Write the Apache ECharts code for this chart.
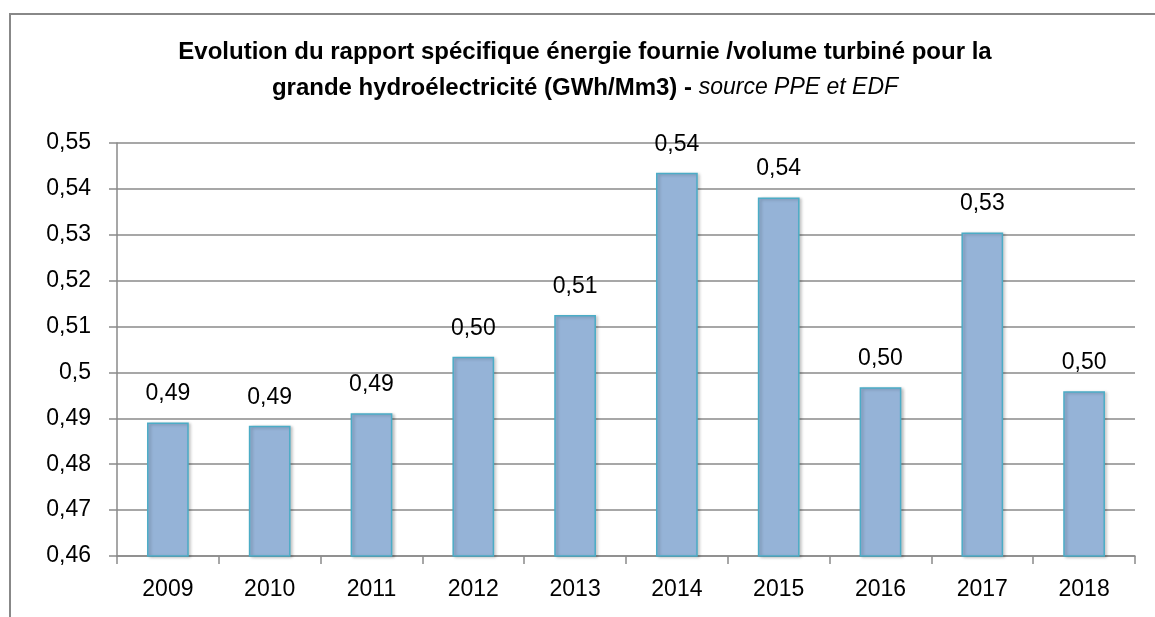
<!DOCTYPE html>
<html>
<head>
<meta charset="utf-8">
<script src="https://cdn.jsdelivr.net/npm/echarts@6/dist/echarts.min.js"></script>
<style>
  html, body { margin: 0; padding: 0; background: #ffffff; }
  #chart { width: 1155px; height: 617px; }
</style>
</head>
<body>
<div id="chart"></div>
<script>
// Rapport énergie fournie / volume turbiné (GWh/Mm3), grande hydroélectricité
const years = ['2009', '2010', '2011', '2012', '2013', '2014', '2015', '2016', '2017', '2018'];
const ratios = [0.4891, 0.4884, 0.4911, 0.5034, 0.5125, 0.5435, 0.5381, 0.4968, 0.5305, 0.4959];
const titleLine1 = 'Evolution du rapport spécifique énergie fournie /volume turbiné pour la';
const titleLine2 = 'grande hydroélectricité (GWh/Mm3) - ';
const titleSource = 'source PPE et EDF';

const FONT = '"Liberation Sans", Arial, sans-serif';
const GRID_GREY = '#8a8a8a';

const commaDecimal = (v, digits) => v.toFixed(digits).replace('.', ',');

const chart = echarts.init(document.getElementById('chart'), null, { renderer: 'canvas' });

chart.setOption({
  backgroundColor: '#ffffff',
  animation: false,
  textStyle: { fontFamily: FONT },
  grid: { left: 117, right: 20, top: 143, bottom: 61, containLabel: false },
  graphic: [
    {
      type: 'rect',
      silent: true,
      z: -10,
      shape: { x: 10, y: 14, width: 1170, height: 640 },
      style: { fill: 'none', stroke: '#888888', lineWidth: 2 }
    },
    {
      type: 'text',
      silent: true,
      x: 585,
      y: 34,
      style: {
        text: '{b|' + titleLine1 + '}\n{b|' + titleLine2 + '}{i|' + titleSource + '}',
        align: 'center',
        verticalAlign: 'top',
        fill: '#000000',
        rich: {
          b: { fontFamily: FONT, fontSize: 24, fontWeight: 'bold', lineHeight: 36, fill: '#000000' },
          i: { fontFamily: FONT, fontSize: 23, fontStyle: 'italic', lineHeight: 36, fill: '#000000' }
        }
      }
    }
  ],
  xAxis: {
    type: 'category',
    data: years,
    boundaryGap: true,
    axisLine: { show: true, lineStyle: { color: GRID_GREY, width: 1.5 } },
    axisTick: { show: true, length: 8, lineStyle: { color: GRID_GREY, width: 1.5 } },
    axisLabel: { color: '#000000', fontSize: 23, fontFamily: FONT, margin: 22 }
  },
  yAxis: {
    type: 'value',
    min: 0.46,
    max: 0.55,
    interval: 0.01,
    axisLine: { show: true, lineStyle: { color: GRID_GREY, width: 1.5 } },
    axisTick: { show: true, length: 8, lineStyle: { color: GRID_GREY, width: 1.5 } },
    axisLabel: {
      color: '#000000',
      fontSize: 23,
      fontFamily: FONT,
      margin: 26,
      formatter: v => String(Math.round(v * 100) / 100).replace('.', ',')
    },
    splitLine: { show: true, lineStyle: { color: GRID_GREY, width: 1.5 } }
  },
  series: [
    {
      type: 'bar',
      data: ratios,
      barWidth: '41%',
      itemStyle: {
        color: '#95b3d7',
        borderColor: '#4bacc6',
        borderWidth: 1.5,
        shadowColor: 'rgba(0, 0, 0, 0.22)',
        shadowBlur: 3,
        shadowOffsetX: 2,
        shadowOffsetY: 1
      },
      label: {
        show: true,
        position: 'top',
        distance: 17,
        color: '#000000',
        fontSize: 23,
        fontFamily: FONT,
        formatter: p => commaDecimal(p.value, 2)
      }
    }
  ]
});
</script>
</body>
</html>
